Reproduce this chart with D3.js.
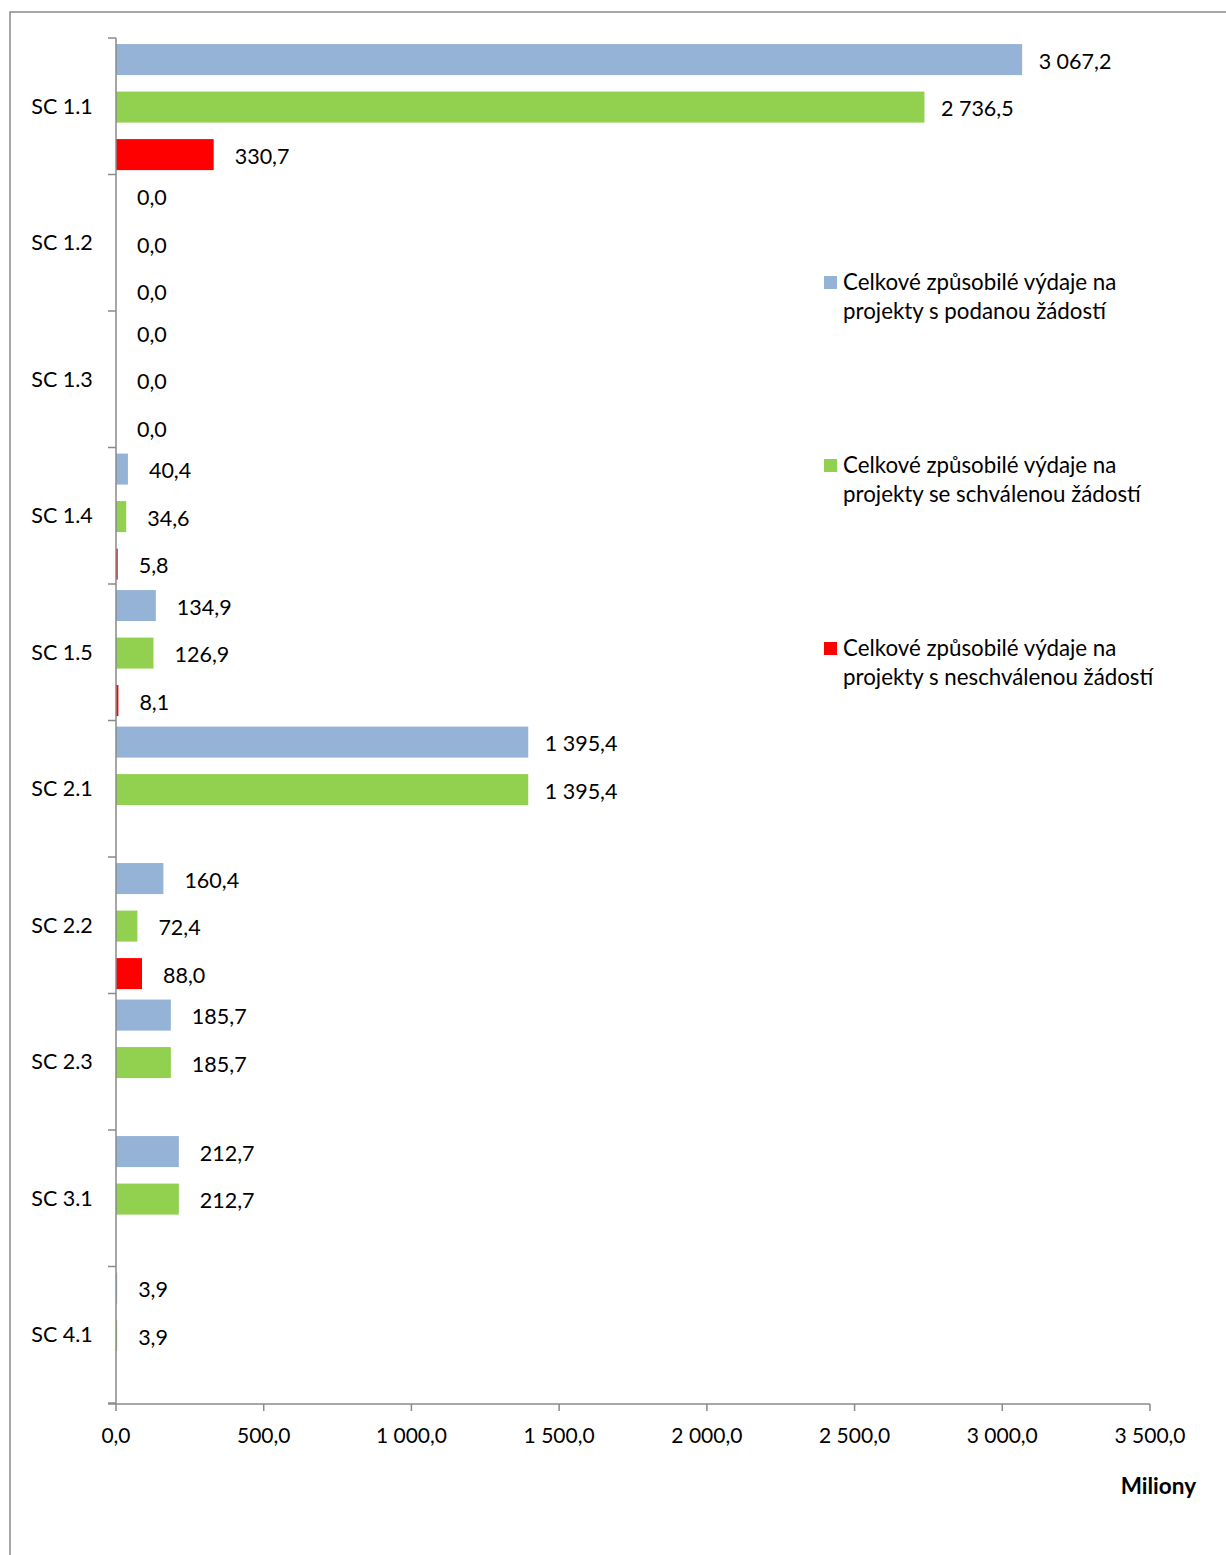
<!DOCTYPE html>
<html>
<head>
<meta charset="utf-8">
<script src="https://cdn.jsdelivr.net/npm/d3@7"></script>
<style>
  html, body { margin: 0; padding: 0; background: #fff; }
  svg { display: block; }
  text { font-family: Lato, "Open Sans", sans-serif; fill: #000; }
</style>
</head>
<body>
<script>
const categories = ["SC 1.1", "SC 1.2", "SC 1.3", "SC 1.4", "SC 1.5", "SC 2.1", "SC 2.2", "SC 2.3", "SC 3.1", "SC 4.1"];
const seriesNames = [
  ["Celkové způsobilé výdaje na", "projekty s podanou žádostí"],
  ["Celkové způsobilé výdaje na", "projekty se schválenou žádostí"],
  ["Celkové způsobilé výdaje na", "projekty s neschválenou žádostí"]
];
const seriesColors = ["#95B3D7", "#92D050", "#FF0000"];
const podana = [3067.2, 0.0, 0.0, 40.4, 134.9, 1395.4, 160.4, 185.7, 212.7, 3.9];
const schvalena = [2736.5, 0.0, 0.0, 34.6, 126.9, 1395.4, 72.4, 185.7, 212.7, 3.9];
const neschvalena = [330.7, 0.0, 0.0, 5.8, 8.1, null, 88.0, null, null, null];
const xTicks = [0, 500, 1000, 1500, 2000, 2500, 3000, 3500];
const axisTitle = "Miliony";

const series = [podana, schvalena, neschvalena];
const W = 1226, H = 1555;
const fmt = v => {
  const s = v.toFixed(1).replace(".", ",");
  const [i, d] = s.split(",");
  return i.replace(/\B(?=(\d{3})+(?!\d))/g, " ") + "," + d;
};

const svg = d3.select("body").append("svg").attr("width", W).attr("height", H);

// outer frame
svg.append("rect").attr("x", 10).attr("y", 12).attr("width", W + 20).attr("height", H + 20)
  .attr("fill", "none").attr("stroke", "#8a8a8a").attr("stroke-width", 1.5);

const x = d3.scaleLinear().domain([0, 3500]).range([116, 1150]);
const y = d3.scaleBand().domain(categories).range([38, 1403]).paddingInner(0).paddingOuter(0);
const inner = d3.scaleBand().domain([0, 1, 2]).range([0, y.bandwidth()])
  .paddingInner(0.347).paddingOuter(0.11).align(0.58);

const gridColor = "#8a8a8a";

// bars
series.forEach((vals, si) => {
  const g = svg.append("g");
  categories.forEach((c, ci) => {
    const v = vals[ci];
    if (v === null) return;
    const y0 = y(c) + inner(si);
    if (v > 0) {
      g.append("rect")
        .attr("x", x(0)).attr("y", y0)
        .attr("width", x(v) - x(0)).attr("height", inner.bandwidth())
        .attr("fill", seriesColors[si]);
    }
    const label = fmt(v);
    const off = label.includes(" ") ? 16.5 : 21;
    g.append("text")
      .attr("x", x(v) + off).attr("y", y0 + inner.bandwidth() / 2)
      .attr("dy", "0.42em").attr("font-size", 21.5)
      .text(label);
  });
});

// y axis
const yAxis = svg.append("g");
yAxis.append("line").attr("x1", 116).attr("x2", 116).attr("y1", 38).attr("y2", 1404)
  .attr("stroke", gridColor).attr("stroke-width", 1.5);
const bounds = categories.map(c => y(c)).concat([y.range()[1]]);
bounds.forEach(b => {
  yAxis.append("line").attr("x1", 108).attr("x2", 116).attr("y1", b).attr("y2", b)
    .attr("stroke", gridColor).attr("stroke-width", 1.5);
});
categories.forEach(c => {
  yAxis.append("text").attr("x", 62).attr("y", y(c) + y.bandwidth() / 2)
    .attr("dy", "0.35em").attr("text-anchor", "middle").attr("font-size", 21.5).text(c);
});

// x axis
const xAxis = svg.append("g");
xAxis.append("line").attr("x1", 108).attr("x2", 1150).attr("y1", 1404).attr("y2", 1404)
  .attr("stroke", gridColor).attr("stroke-width", 1.5);
xTicks.forEach(t => {
  xAxis.append("line").attr("x1", x(t)).attr("x2", x(t)).attr("y1", 1404).attr("y2", 1411)
    .attr("stroke", gridColor).attr("stroke-width", 1.5);
  xAxis.append("text").attr("x", x(t)).attr("y", 1436).attr("dy", "0.35em")
    .attr("text-anchor", "middle").attr("font-size", 21).text(fmt(t));
});
svg.append("text").attr("x", 1196).attr("y", 1486).attr("dy", "0.35em")
  .attr("text-anchor", "end").attr("font-size", 22.5).attr("font-weight", "bold").text(axisTitle);

// legend
const legendY = [282, 465, 648];
seriesNames.forEach((lines, i) => {
  const g = svg.append("g");
  g.append("rect").attr("x", 824).attr("y", legendY[i] - 6).attr("width", 13).attr("height", 13)
    .attr("fill", seriesColors[i]);
  lines.forEach((ln, li) => {
    g.append("text").attr("x", 843).attr("y", legendY[i] + li * 29).attr("dy", "0.35em")
      .attr("font-size", 22.3).text(ln);
  });
});
</script>
</body>
</html>
